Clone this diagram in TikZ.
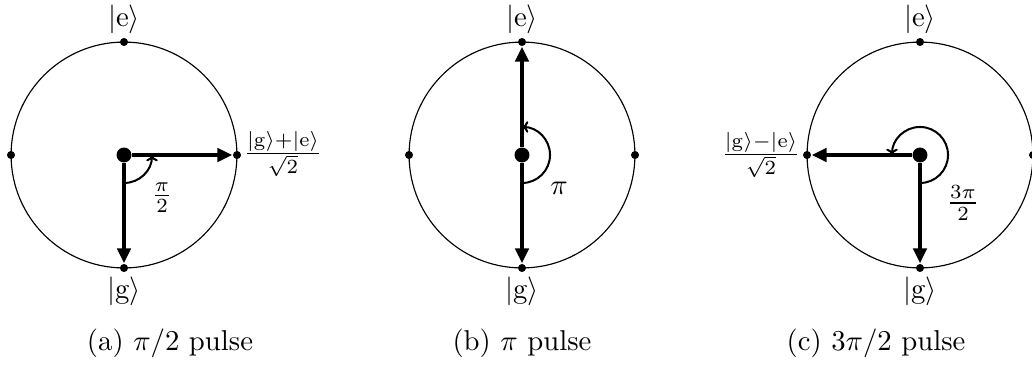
\documentclass[tikz,border=0pt]{standalone}
\usetikzlibrary{arrows.meta}
\begin{document}
\begin{tikzpicture}[x=0.348pt,y=0.348pt,
  bloch/.style={line width=0.4pt},
  dot/.style={circle,fill=black,inner sep=0pt,minimum size=2.8pt},
  cdot/.style={circle,fill=black,inner sep=0pt,minimum size=5.2pt},
  vec/.style={line width=1.4pt,-{Triangle[length=5.2pt,width=4.6pt]}},
  angarr/.style={line width=0.7pt,-{To[length=2.2pt,width=4pt]}},
  lbl/.style={inner sep=0pt}]
\useasboundingbox (0,0) rectangle (1032,365);
\foreach \n/\x in {a/124,b/522,c/920}{
  \draw[bloch] (\x,210) circle[radius=39.3pt];
  \node[cdot] (\n-c) at (\x,210) {};
  \node[dot] (\n-t) at (\x,323) {};
  \node[dot] (\n-b) at (\x,97) {};
  \node[dot] (\n-l) at (\x-113,210) {};
  \node[dot] (\n-r) at (\x+113,210) {};
  \node[lbl] (\n-e) at (\x,346) {$|\mathrm{e}\rangle$};
  \node[lbl] (\n-g) at (\x,74) {$|\mathrm{g}\rangle$};
}
% (a)
\draw[vec] (a-c) -- (a-b);
\draw[vec] (a-c) -- (a-r);
\draw[angarr] ([shift={(0,-28)}]a-c.center) arc[start angle=-90,end angle=0,radius=9.75pt];
\node[lbl] (a-ang) at (162,167) {$\frac{\pi}{2}$};
\node[lbl] (a-st) at (283,211) {$\frac{|\mathrm{g}\rangle+|\mathrm{e}\rangle}{\sqrt{2}}$};
\node[lbl] (a-cap) at (170,22) {(a) $\pi/2$ pulse};
% (b)
\draw[vec] (b-c) -- (b-t);
\draw[vec] (b-c) -- (b-b);
\draw[angarr] ([shift={(0,-28)}]b-c.center) arc[start angle=-90,end angle=90,radius=9.75pt];
\node[lbl] (b-ang) at (559,177) {$\pi$};
\node[lbl] (b-cap) at (522,22) {(b) $\pi$ pulse};
% (c)
\draw[vec] (c-c) -- (c-l);
\draw[vec] (c-c) -- (c-b);
\draw[angarr] ([shift={(0,-28)}]c-c.center) arc[start angle=-90,end angle=180,radius=9.75pt];
\node[lbl] (c-ang) at (963,162) {$\frac{3\pi}{2}$};
\node[lbl] (c-st) at (761,210) {$\frac{|\mathrm{g}\rangle-|\mathrm{e}\rangle}{\sqrt{2}}$};
\node[lbl] (c-cap) at (876,22) {(c) $3\pi/2$ pulse};
\end{tikzpicture}
\end{document}
